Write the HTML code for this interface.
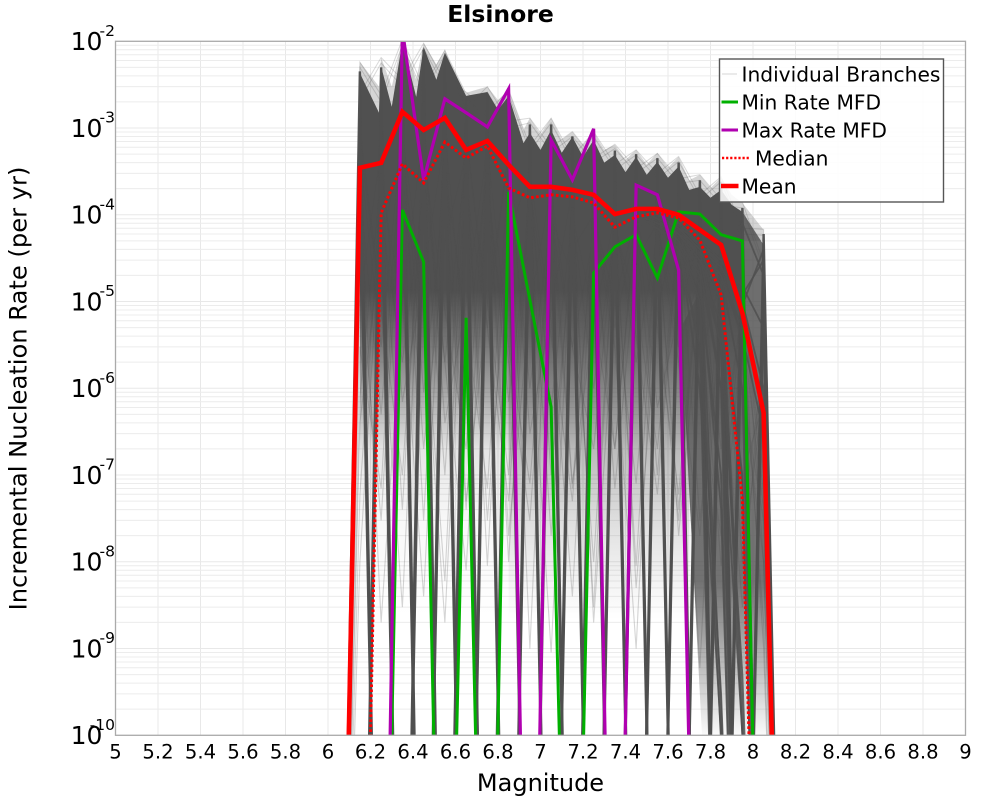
<!DOCTYPE html>
<html>
<head>
<meta charset="utf-8">
<title>Elsinore</title>
<style>
html,body{margin:0;padding:0;background:#fff;width:1000px;height:800px;overflow:hidden;}
svg{display:block;font-family:"DejaVu Sans","Liberation Sans",sans-serif;}
</style>
</head>
<body>
<svg id="chart" width="1000" height="800" viewBox="0 0 1000 800" xmlns="http://www.w3.org/2000/svg">
<defs>
<clipPath id="plot-clip"><rect x="115.5" y="41.3" width="850" height="694"/></clipPath>
<linearGradient id="body-fade" gradientUnits="userSpaceOnUse" x1="0" y1="41" x2="0" y2="735">
<stop offset="0" stop-color="#505050" stop-opacity="1"/>
<stop offset="0.36" stop-color="#505050" stop-opacity="1"/>
<stop offset="0.43" stop-color="#505050" stop-opacity="0.8"/>
<stop offset="0.52" stop-color="#505050" stop-opacity="0.45"/>
<stop offset="0.59" stop-color="#505050" stop-opacity="0.15"/>
<stop offset="0.69" stop-color="#505050" stop-opacity="0.04"/>
<stop offset="0.83" stop-color="#505050" stop-opacity="0"/>
</linearGradient>
<linearGradient id="mid-fade" gradientUnits="userSpaceOnUse" x1="0" y1="270" x2="0" y2="620">
<stop offset="0" stop-color="#505050" stop-opacity="0"/>
<stop offset="0.15" stop-color="#505050" stop-opacity="0.42"/>
<stop offset="0.45" stop-color="#505050" stop-opacity="0.32"/>
<stop offset="0.8" stop-color="#505050" stop-opacity="0.1"/>
<stop offset="1" stop-color="#505050" stop-opacity="0"/>
</linearGradient>
<linearGradient id="fan-fade" gradientUnits="userSpaceOnUse" x1="0" y1="41" x2="0" y2="735">
<stop offset="0" stop-color="#505050" stop-opacity="0.85"/>
<stop offset="0.78" stop-color="#505050" stop-opacity="0.8"/>
<stop offset="1" stop-color="#505050" stop-opacity="0.03"/>
</linearGradient>
</defs>
<rect x="0" y="0" width="1000" height="800" fill="#fff"/>
<g id="grid"></g>
<g id="marks" clip-path="url(#plot-clip)"></g>
<rect x="115.5" y="41.3" width="850" height="694" fill="none" stroke="#aaaaaa" stroke-width="1.3"/>
<g id="tick-labels" fill="#000"></g>
<text x="500.5" y="22" text-anchor="middle" font-size="23.5" font-weight="bold" fill="#000">Elsinore</text>
<text x="540.5" y="791" text-anchor="middle" font-size="24" fill="#000">Magnitude</text>
<text transform="translate(26.5,388.5) rotate(-90)" text-anchor="middle" font-size="24.2" fill="#000">Incremental Nucleation Rate (per yr)</text>
<g>
<rect x="719.5" y="59" width="224" height="143" fill="#fff" fill-opacity="0.86" stroke="#555" stroke-width="1.4"/>
<line x1="722" y1="74" x2="737" y2="74" stroke="#dcdcdc" stroke-width="1.2"/>
<text x="741.5" y="81.5" font-size="20.2" fill="#000">Individual Branches</text>
<line x1="721.5" y1="102" x2="738" y2="102" stroke="#00b000" stroke-width="3"/>
<text x="741.5" y="109.5" font-size="20.2" fill="#000">Min Rate MFD</text>
<line x1="721.5" y1="130" x2="738" y2="130" stroke="#b000b0" stroke-width="3"/>
<text x="741.5" y="137.5" font-size="20.2" fill="#000">Max Rate MFD</text>
<line x1="722" y1="158" x2="750" y2="158" stroke="#ff0000" stroke-width="2.6" stroke-dasharray="2.2 1.9"/>
<text x="755" y="165.5" font-size="20.2" fill="#000">Median</text>
<line x1="721" y1="186" x2="738.5" y2="186" stroke="#ff0000" stroke-width="4.6"/>
<text x="741.5" y="193.5" font-size="20.2" fill="#000">Mean</text>
</g>
</svg>
<script>
var magnitudes = [6.15,6.25,6.35,6.45,6.55,6.65,6.75,6.85,6.95,7.05,7.15,7.25,7.35,7.45,7.55,7.65,7.75,7.85,7.95,8.05];
var meanRates = [3.48e-4,3.97e-4,1.54e-3,9.5e-4,1.31e-3,5.6e-4,7.1e-4,3.77e-4,2.1e-4,2.1e-4,1.94e-4,1.7e-4,1.02e-4,1.17e-4,1.17e-4,9.97e-5,6.7e-5,4.5e-5,7.4e-6,5.2e-7];
var medianRates = [0,1.05e-4,3.86e-4,2.33e-4,6.9e-4,4.5e-4,6.2e-4,2.04e-4,1.57e-4,1.7e-4,1.61e-4,1.37e-4,7.2e-5,9.5e-5,1.05e-4,9.2e-5,5.1e-5,1.19e-5,5.15e-8,0];
var minRates = [0,0,1.14e-4,2.86e-5,0,6.5e-6,0,1.84e-4,1.04e-5,6.1e-7,0,2.14e-5,4.27e-5,5.9e-5,1.87e-5,1.08e-4,1.02e-4,5.9e-5,5.0e-5,0];
var maxRates = [0,0,1.36e-2,2.53e-4,2.17e-3,1.5e-3,1.03e-3,2.83e-3,0,7.3e-4,2.53e-4,9.8e-4,0,2.2e-4,1.7e-4,2.3e-5,0,0,0,0];

var haloMagnitudes = [6.15,6.15,6.24,6.25,6.30,6.35,6.415,6.45,6.51,6.55,6.65,6.75,6.80,6.85,6.92,6.95,7.00,7.05,7.10,7.15,7.20,7.25,7.30,7.35,7.40,7.45,7.50,7.55,7.60,7.65,7.70,7.75,7.80,7.85,7.90,7.95,8.05,8.05];
var haloRates = [5e-5,5.8e-3,3.0e-3,6.5e-3,3.0e-3,1.04e-2,3.6e-3,9.6e-3,5.4e-3,8.0e-3,2.55e-3,3.0e-3,2.1e-3,2.76e-3,9.5e-4,1.31e-3,8.4e-4,1.31e-3,7.3e-4,9.0e-4,6.4e-4,9.0e-4,5.6e-4,6.4e-4,4.3e-4,5.6e-4,3.8e-4,5.2e-4,3.5e-4,4.65e-4,2.5e-4,2.9e-4,2.04e-4,2.7e-4,1.7e-4,1.37e-4,6.7e-5,5e-5];

var bodyTopMagnitudes = [6.15,6.15,6.24,6.25,6.30,6.35,6.415,6.45,6.51,6.55,6.65,6.75,6.80,6.85,6.92,6.95,7.00,7.05,7.10,7.15,7.20,7.25,7.30,7.35,7.40,7.45,7.50,7.55,7.60,7.65,7.70,7.75,7.80,7.85,7.90,7.95,7.95];
var bodyTopRates = [1e-10,4.3e-3,1.5e-3,5.1e-3,1.76e-3,9.9e-3,2.29e-3,8.6e-3,3.6e-3,7.4e-3,2.35e-3,2.6e-3,1.62e-3,2.35e-3,6.7e-4,8.8e-4,5.6e-4,9.5e-4,5.2e-4,7.9e-4,4.65e-4,7.3e-4,4.0e-4,4.9e-4,3.1e-4,4.65e-4,2.9e-4,4.07e-4,2.67e-4,3.6e-4,1.94e-4,2.1e-4,1.57e-4,1.94e-4,1.3e-4,1.08e-4,1e-10];

var midDensityMagnitudes = [6.85,7.7,7.7,6.85];
var midDensityRates = [3e-5,3e-5,1e-9,1e-9];

var fanDensityMagnitudes = [7.66,7.95,8.05,8.08,7.76];
var fanDensityRates = [5e-6,1.08e-4,4.5e-5,1e-10,1e-10];

var fanBranches = [
[5.75e-3,2.4e-3,1.05e-2,2.9e-3,7.9e-3,1.7e-3,3.0e-3,1.2e-3,1.3e-3,6e-4,9.1e-4,4.5e-4,6.5e-4,3.4e-4,5.1e-4,2.6e-4,2.9e-4,1.5e-4,1.4e-4,2.8e-5],
[2.5e-3,6.5e-3,3.6e-3,9.5e-3,3.4e-3,2.6e-3,1.5e-3,2.75e-3,6.2e-4,1.3e-3,4.6e-4,9.1e-4,3.8e-4,5.6e-4,3e-4,4.7e-4,1.7e-4,2.75e-4,7e-5,6.8e-5],
[5.0e-3,2.0e-3,9.0e-3,2.5e-3,7.0e-3,1.5e-3,2.6e-3,1.0e-3,1.15e-3,5.2e-4,8.0e-4,4.0e-4,5.8e-4,3.0e-4,4.5e-4,2.3e-4,2.5e-4,1.3e-4,1.2e-4,2.4e-5],
[2.1e-3,5.6e-3,3.0e-3,8.3e-3,2.9e-3,2.2e-3,1.3e-3,2.4e-3,5.4e-4,1.15e-3,4.0e-4,8.0e-4,3.3e-4,4.9e-4,2.6e-4,4.1e-4,1.5e-4,2.4e-4,6e-5,5.8e-5]
];

var spikeBranches = [
[0,5e-3,0,8e-3,0,2.2e-3,0,2.4e-3,0,1.1e-3,0,8e-4,0,5e-4,0,4e-4,0,2.4e-4,0,6e-5],
[0,1.2e-3,0,2e-3,0,9e-4,0,8e-4,0,4e-4,0,3e-4,0,2.2e-4,0,1.8e-4,0,9e-5,0,2.5e-5],
[0,3e-4,0,5e-4,0,3e-4,0,2.5e-4,0,1.5e-4,0,1.1e-4,0,8e-5,0,7e-5,0,3e-5,0,1e-5],
[4.5e-3,0,9e-3,0,6.5e-3,0,2.5e-3,0,1.1e-3,0,8e-4,0,5.5e-4,0,4.5e-4,0,2.5e-4,0,1.2e-4,0],
[1.3e-3,0,2.5e-3,0,2e-3,0,9e-4,0,4.5e-4,0,3e-4,0,2.4e-4,0,2e-4,0,1e-4,0,5e-5,0],
[3.5e-4,0,7e-4,0,6e-4,0,3e-4,0,1.6e-4,0,1.2e-4,0,9e-5,0,8e-5,0,4e-5,0,1.5e-5,0]
];

var streakBranches = [
[2e-4,5e-7,8e-4,3e-8,1e-3,2e-6,4e-4,1e-8,2e-4,6e-7,1e-4,3e-9,1e-4,2e-6,6e-5,4e-8,3e-5,1e-6,1e-6,1e-8],
[8e-7,3e-4,4e-8,6e-4,2e-6,5e-4,9e-9,3e-4,1e-6,1e-4,7e-8,1e-4,5e-6,8e-5,1e-7,7e-5,2e-6,2e-5,3e-8,2e-6],
[5e-4,3e-6,1e-3,9e-7,2e-4,4e-8,3e-4,7e-7,1e-4,2e-8,1e-4,1e-6,7e-5,9e-9,9e-5,3e-6,2e-5,2e-7,8e-6,1e-9],
[1e-8,1e-4,2e-6,2e-4,1e-7,1e-3,5e-6,6e-4,1e-9,2e-4,3e-6,6e-5,2e-7,1e-4,8e-6,3e-8,3e-5,5e-6,1e-7,7e-7],
[1e-3,1e-5,3e-9,5e-4,8e-6,2e-7,6e-4,3e-6,8e-8,9e-5,2e-5,1e-8,7e-5,1e-5,2e-7,8e-5,1e-5,9e-9,5e-6,4e-8],
[3e-6,7e-8,9e-4,1e-5,6e-9,7e-4,1e-5,1e-7,3e-4,6e-6,4e-9,1e-4,1e-5,8e-8,6e-5,9e-6,6e-10,3e-5,3e-6,2e-9],
[1e-5,6e-4,7e-7,2e-5,8e-4,5e-8,1e-5,5e-4,3e-7,8e-6,2e-4,2e-9,1e-5,1e-4,6e-7,7e-6,6e-5,8e-8,1e-5,1e-7],
[3e-4,2e-9,1e-5,1e-3,4e-7,1e-5,6e-4,2e-8,9e-6,2e-4,8e-8,6e-6,1e-4,5e-9,8e-6,9e-5,3e-8,5e-6,2e-5,1e-8],
[6e-8,2e-4,1e-5,4e-9,3e-4,6e-6,7e-8,4e-4,8e-6,9e-10,1e-4,7e-6,2e-7,9e-5,5e-6,6e-8,4e-5,4e-6,3e-9,4e-6],
[2e-5,3e-8,4e-4,7e-6,2e-9,2e-4,5e-6,5e-8,2e-4,4e-6,5e-8,9e-5,3e-6,1e-9,7e-5,2e-6,2e-8,2e-5,9e-7,3e-8],
[7e-4,8e-6,1e-7,3e-4,2e-6,8e-9,2e-4,2e-6,3e-8,1e-4,3e-6,2e-7,8e-5,4e-6,6e-8,6e-5,8e-7,2e-8,1e-5,6e-8],
[4e-7,5e-5,6e-4,2e-7,5e-5,5e-4,3e-8,6e-5,3e-4,1e-7,4e-5,1e-4,7e-8,3e-5,8e-5,2e-8,1e-5,3e-5,1e-8,9e-7]
];

var taperMagnitudes = [7.45,7.55,7.65,7.75,7.85,7.95,8.05];
var taperBranches = [
[1e-4,9e-5,6e-5,3e-5,0,0,0],
[1.2e-4,1e-4,5e-5,1e-5,0,0,0],
[9e-5,8e-5,4e-5,3e-6,0,0,0],
[1e-4,9e-5,6e-5,3e-5,2e-10,0,0],
[1e-4,8e-5,5e-5,1e-5,8e-11,0,0],
[1e-4,8e-5,5e-5,3e-6,3e-10,0,0],
[1e-4,8e-5,5e-5,1e-6,1e-10,0,0],
[1e-4,7e-5,5e-5,2e-5,6e-6,0,0],
[1.1e-4,9e-5,6e-5,2.5e-5,1e-6,0,0],
[8e-5,7e-5,4e-5,1.5e-5,1e-7,0,0],
[1.2e-4,1e-4,7e-5,4e-5,1.5e-5,0,0],
[1e-4,8e-5,6e-5,3e-5,3e-6,0,0],
[9e-5,9e-5,5e-5,2e-5,4e-8,0,0],
[1e-4,9e-5,7e-5,4e-5,2e-5,2e-10,0],
[1e-4,9e-5,7e-5,4e-5,1e-5,1e-10,0],
[1e-4,9e-5,7e-5,4e-5,3e-6,5e-10,0],
[1e-4,9e-5,7e-5,4e-5,1e-6,1e-10,0],
[1e-4,9e-5,7e-5,4e-5,2e-5,1e-6,0],
[1.1e-4,1e-4,6e-5,3e-5,1e-5,1e-7,0],
[1.2e-4,1e-4,8e-5,5e-5,2e-5,5e-6,0],
[1e-4,8e-5,6e-5,4e-5,1e-5,8e-8,0],
[1e-4,9e-5,7e-5,4e-5,2.5e-5,1e-5,0],
[1.3e-4,1e-4,8e-5,5e-5,3e-5,1.5e-5,5e-6],
[1.2e-4,1e-4,7e-5,5e-5,3e-5,1e-5,1e-6],
[1.1e-4,9e-5,7e-5,4e-5,2e-5,4e-6,3e-7],
[1e-4,9e-5,8e-5,5e-5,3e-5,1.2e-5,3e-5],
[1.2e-4,9e-5,7e-5,4e-5,2.5e-5,9e-6,4e-5],
[1.1e-4,1e-4,7e-5,5e-5,3e-5,8e-5,2e-5]
];

var xTickValues = [5,5.2,5.4,5.6,5.8,6,6.2,6.4,6.6,6.8,7,7.2,7.4,7.6,7.8,8,8.2,8.4,8.6,8.8,9];
var yTickExponents = [-2,-3,-4,-5,-6,-7,-8,-9,-10];
var minorMultipliers = [2,3,4,5,6,7,8,9];
var ZERO_RATE = 1e-16;
var FLOOR_Y = 737;

var NS = 'http://www.w3.org/2000/svg';
function xScale(m){ return 115.5 + (m - 5) * 212.5; }
function yScale(v){ return 735.3 - (Math.log10(Math.max(v, ZERO_RATE)) + 10) * 86.75; }

function make(tag, parent, name, attrs){
  var el = document.createElementNS(NS, tag);
  for (var k in attrs) el.setAttribute(k, attrs[k]);
  
  
  parent.appendChild(el);
  return el;
}
function polygonPoints(mags, rates){
  var pts = [];
  for (var i = 0; i < mags.length; i++) pts.push(xScale(mags[i]).toFixed(2) + ',' + yScale(rates[i]).toFixed(2));
  return pts.join(' ');
}
/* Path through the values, padded with zero-rate bins and cut at the plot floor. */
function seriesPath(mags, rates){
  var xs = [xScale(mags[0] - 0.1)], ys = [yScale(0)];
  for (var i = 0; i < mags.length; i++){ xs.push(xScale(mags[i])); ys.push(yScale(rates[i])); }
  xs.push(xScale(mags[mags.length - 1] + 0.1));
  ys.push(yScale(0));
  var d = '', pen = false;
  for (var j = 0; j < xs.length - 1; j++){
    var x0 = xs[j], y0 = ys[j], x1 = xs[j + 1], y1 = ys[j + 1];
    if (y0 > FLOOR_Y && y1 > FLOOR_Y){ pen = false; continue; }
    if (y0 > FLOOR_Y){ x0 = x0 + (x1 - x0) * (FLOOR_Y - y0) / (y1 - y0); y0 = FLOOR_Y; pen = false; }
    var cut = false;
    if (y1 > FLOOR_Y){ x1 = x0 + (x1 - x0) * (FLOOR_Y - y0) / (y1 - y0); y1 = FLOOR_Y; cut = true; }
    if (!pen) d += 'M' + x0.toFixed(2) + ' ' + y0.toFixed(2);
    d += 'L' + x1.toFixed(2) + ' ' + y1.toFixed(2);
    pen = !cut;
  }
  return d;
}

var grid = document.getElementById('grid');
var marks = document.getElementById('marks');
var labels = document.getElementById('tick-labels');

xTickValues.forEach(function(t){
  make('line', grid, 'x-grid-line', {x1: xScale(t), x2: xScale(t), y1: 41, y2: 735, stroke: '#e8e8e8', 'stroke-width': 1});
  var lab = make('text', labels, 'x-tick-label', {x: xScale(t), y: 758.5, 'text-anchor': 'middle', 'font-size': 19.6});
  lab.textContent = String(t);
});
yTickExponents.forEach(function(e, idx){
  var y = yScale(Math.pow(10, e));
  make('line', grid, 'y-grid-line', {x1: 115.5, x2: 965.5, y1: y, y2: y, stroke: '#e8e8e8', 'stroke-width': 1});
  if (idx > 0) {
    minorMultipliers.forEach(function(mult){
      var ym = yScale(mult * Math.pow(10, e));
      make('line', grid, 'y-minor-grid-line', {x1: 115.5, x2: 965.5, y1: ym, y2: ym, stroke: '#ececec', 'stroke-width': 1});
    });
  }
  var base = make('text', labels, 'y-tick-label-base', {x: 70.6, y: y + 8.7, 'font-size': 25});
  base.textContent = '10';
  var sup = make('text', labels, 'y-tick-label-exponent', {x: 115, y: y - 5.5, 'text-anchor': 'end', 'font-size': 15.5});
  sup.textContent = String(e);
});

make('polygon', marks, 'branch-envelope-halo', {points: polygonPoints(haloMagnitudes, haloRates), fill: '#505050', 'fill-opacity': 0.24});
make('polygon', marks, 'branch-density-body', {points: polygonPoints(bodyTopMagnitudes, bodyTopRates), fill: 'url(#body-fade)'});
make('polygon', marks, 'branch-density-middle', {points: polygonPoints(midDensityMagnitudes, midDensityRates), fill: 'url(#mid-fade)'});
make('polygon', marks, 'branch-density-fan', {points: polygonPoints(fanDensityMagnitudes, fanDensityRates), fill: 'url(#fan-fade)'});

fanBranches.forEach(function(b){
  make('path', marks, 'individual-branch', {d: seriesPath(magnitudes, b), fill: 'none', stroke: '#505050', 'stroke-opacity': 0.22, 'stroke-width': 1});
});
streakBranches.forEach(function(b){
  make('path', marks, 'individual-branch', {d: seriesPath(magnitudes, b), fill: 'none', stroke: '#505050', 'stroke-opacity': 0.24, 'stroke-width': 1.1});
});
spikeBranches.forEach(function(b){
  make('path', marks, 'individual-branch', {d: seriesPath(magnitudes, b), fill: 'none', stroke: '#505050', 'stroke-opacity': 0.97, 'stroke-width': 2.4});
});
taperBranches.forEach(function(b){
  make('path', marks, 'individual-branch', {d: seriesPath(taperMagnitudes, b), fill: 'none', stroke: '#505050', 'stroke-opacity': 0.85, 'stroke-width': 1.8});
});

make('path', marks, 'min-rate-line', {d: seriesPath(magnitudes, minRates), fill: 'none', stroke: '#00b000', 'stroke-width': 3});
make('path', marks, 'max-rate-line', {d: seriesPath(magnitudes, maxRates), fill: 'none', stroke: '#b000b0', 'stroke-width': 3.2});
make('path', marks, 'median-line', {d: seriesPath(magnitudes, medianRates), fill: 'none', stroke: '#ff0000', 'stroke-width': 3, 'stroke-dasharray': '2.6 2.4'});
make('path', marks, 'mean-line', {d: seriesPath(magnitudes, meanRates), fill: 'none', stroke: '#ff0000', 'stroke-width': 4.6});
</script>
</body>
</html>
